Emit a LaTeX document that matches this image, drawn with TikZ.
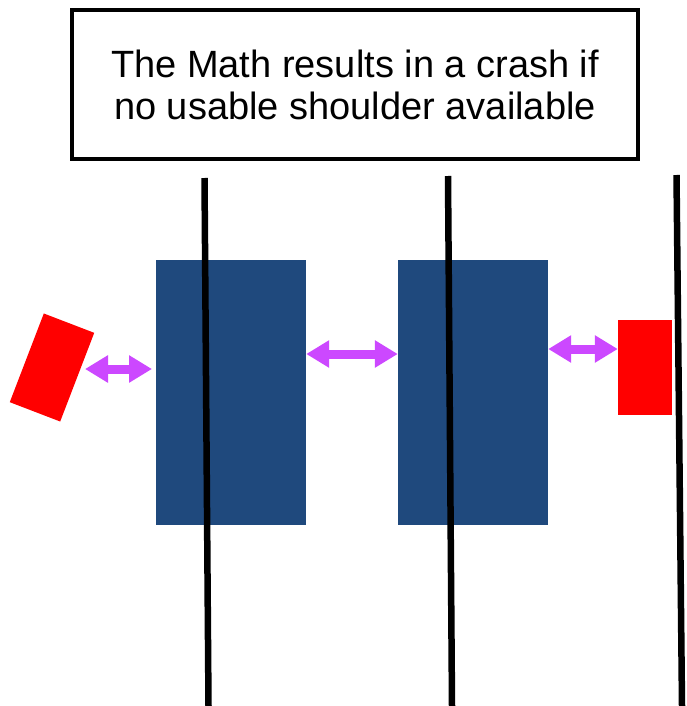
\documentclass[tikz,border=0pt]{standalone}
\usepackage{fontspec}
\setmainfont{Liberation Sans}
\usetikzlibrary{arrows.meta,shadows}
\definecolor{laneblue}{RGB}{31,73,125}
\definecolor{carred}{RGB}{255,0,0}
\definecolor{gapviolet}{RGB}{204,72,255}
\tikzset{
  titlebox/.style={draw=black, line width=4pt, fill=white, minimum width=566pt, minimum height=149pt,
    inner sep=0pt, align=center, font=\fontsize{38}{42}\selectfont,
    drop shadow={shadow xshift=2pt, shadow yshift=-2pt, opacity=0.35, fill=gray}},
  lanebox/.style={fill=laneblue, minimum width=150pt, minimum height=265pt, inner sep=0pt},
  carbox/.style={fill=carred, minimum width=54pt, minimum height=95pt, inner sep=0pt},
  laneline/.style={line width=6.5pt, black},
  gaparrow/.style={draw=gapviolet, line width=9pt,
    {Triangle[width=26pt,length=23pt]}-{Triangle[width=26pt,length=23pt]}},
}
\begin{document}
\begin{tikzpicture}[x=1pt,y=-1pt]
\useasboundingbox (0,0) rectangle (686,706);
\node[titlebox] (title) at (355,84.5) {The Math results in a crash if\\no usable shoulder available};
\node[lanebox] (lane1) at (231,392.5) {};
\node[lanebox] (lane2) at (473,392.5) {};
\node[carbox, rotate=-21] (car1) at (52,367.5) {};
\node[carbox] (car2) at (645,367.5) {};
\coordinate (l1t) at (204.5,178);
\coordinate (l1b) at (208.5,706);
\coordinate (l2t) at (448,176);
\coordinate (l2b) at (452,706);
\coordinate (l3t) at (676.5,175);
\coordinate (l3b) at (682,706);
\draw[laneline] (l1t) -- (l1b);
\draw[laneline] (l2t) -- (l2b);
\draw[laneline] (l3t) -- (l3b);
\coordinate (a1s) at (85,369);
\coordinate (a1e) at (152,369);
\draw[gaparrow] (a1s) -- (a1e);
\draw[gaparrow] (lane1.east |- 0,354) -- (lane2.west |- 0,354);
\draw[gaparrow] (lane2.east |- 0,349) -- (car2.west |- 0,349);
\end{tikzpicture}
\end{document}
